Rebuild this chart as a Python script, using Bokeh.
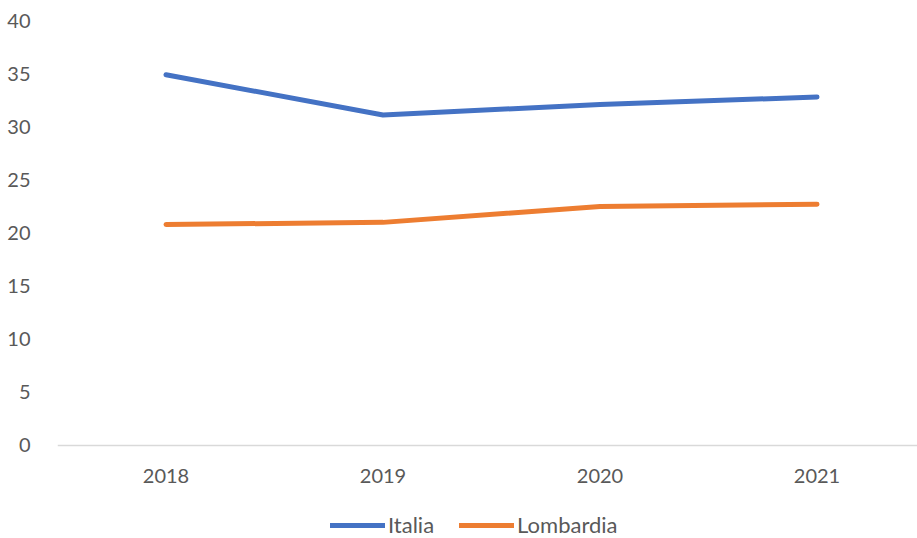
from bokeh.plotting import figure
from bokeh.models import Range1d, FixedTicker, Legend, LegendItem
from bokeh.embed import file_html
from bokeh.resources import INLINE

years = [2018, 2019, 2020, 2021]
year_labels = ["2018", "2019", "2020", "2021"]
italia = [34.9, 31.1, 32.1, 32.8]
lombardia = [20.8, 21.0, 22.5, 22.7]
y_ticks = [0, 5, 10, 15, 20, 25, 30, 35, 40]

FONT = "Lato"
TXT = "#595959"

p = figure(width=917, height=538, output_backend="svg", toolbar_location=None,
           x_range=Range1d(2017.5, 2021.463), y_range=Range1d(-8.753, 40),
           min_border_left=57, min_border_right=0, min_border_top=20,
           min_border_bottom=0)
p.outline_line_color = None
p.xgrid.visible = False
p.ygrid.visible = False

r1 = p.line(years, italia, line_color="#4472C4", line_width=5,
            line_cap="round", line_join="round")
r2 = p.line(years, lombardia, line_color="#ED7D31", line_width=5,
            line_cap="round", line_join="round")

xa = p.xaxis[0]
xa.fixed_location = 0
xa.ticker = FixedTicker(ticks=years)
xa.major_label_overrides = {y: l for y, l in zip(years, year_labels)}
xa.axis_line_color = "#D9D9D9"
xa.axis_line_width = 1.5
xa.major_tick_line_color = None
xa.minor_tick_line_color = None
xa.major_label_standoff = 18
xa.major_label_text_font = FONT
xa.major_label_text_font_size = "20px"
xa.major_label_text_color = TXT

ya = p.yaxis[0]
ya.ticker = FixedTicker(ticks=y_ticks)
ya.axis_line_color = None
ya.major_tick_line_color = None
ya.minor_tick_line_color = None
ya.major_label_standoff = 21
ya.major_label_text_font = FONT
ya.major_label_text_font_size = "20px"
ya.major_label_text_color = TXT

legend = Legend(items=[LegendItem(label="Italia", renderers=[r1]),
                       LegendItem(label="Lombardia", renderers=[r2])],
                location=(273, 0), orientation="horizontal",
                border_line_color=None, background_fill_alpha=0,
                glyph_width=55, glyph_height=20, label_standoff=3,
                spacing=25, padding=0, margin=0,
                label_text_font=FONT, label_text_font_size="22px",
                label_text_color=TXT)
p.add_layout(legend)

open("out.html", "w").write(file_html(p, INLINE))
